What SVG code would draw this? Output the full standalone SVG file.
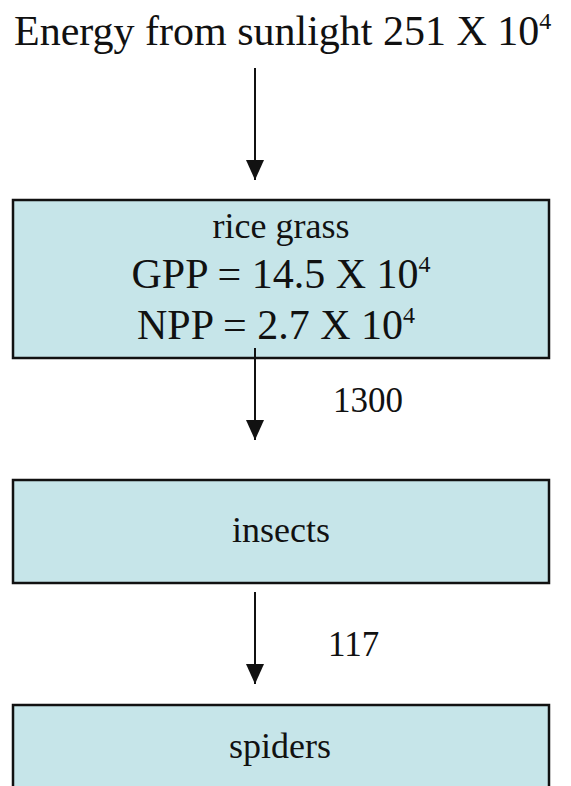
<svg xmlns="http://www.w3.org/2000/svg" width="571" height="786" viewBox="0 0 571 786">
<style>
text{font-family:"Liberation Serif","Times New Roman",serif;fill:#111;}
.box{fill:#c6e5e9;stroke:#111;stroke-width:2.5;}
.big{font-size:42px;}
.mid{font-size:36px;}
.lbl{font-size:35px;}
.conn{stroke:#111;stroke-width:2;fill:none;marker-end:url(#ah);}
</style>
<defs>
<marker id="ah" viewBox="0 0 20 18" refX="20" refY="9" markerWidth="20" markerHeight="18" markerUnits="userSpaceOnUse" orient="auto">
<path d="M0,0 L20,9 L0,18 Z" fill="#111"/>
</marker>
</defs>
<g id="sunlight">
<text class="big" x="14" y="45">Energy from sunlight 251 X 10<tspan font-size="24" dy="-16">4</tspan></text>
</g>
<g id="rice-grass">
<rect class="box" x="13" y="200" width="536" height="158"/>
<text class="mid" x="281" y="238" text-anchor="middle">rice grass</text>
<text class="big" x="281" y="288" text-anchor="middle">GPP = 14.5 X 10<tspan font-size="24" dy="-16">4</tspan></text>
<text class="big" x="276" y="339" text-anchor="middle">NPP = 2.7 X 10<tspan font-size="24" dy="-16">4</tspan></text>
</g>
<g id="insects">
<rect class="box" x="13" y="480" width="536" height="103"/>
<text class="mid" x="281" y="542" text-anchor="middle">insects</text>
</g>
<g id="spiders">
<rect class="box" x="13" y="705" width="536" height="100"/>
<text class="mid" x="280" y="758" text-anchor="middle">spiders</text>
</g>
<g id="connectors">
<line class="conn" x1="255" y1="68" x2="255" y2="180"/>
<line class="conn" x1="255" y1="348" x2="255" y2="440"/>
<line class="conn" x1="255" y1="592" x2="255" y2="684"/>
<text class="lbl" x="333" y="412">1300</text>
<text class="lbl" x="328" y="656">117</text>
</g>
</svg>
